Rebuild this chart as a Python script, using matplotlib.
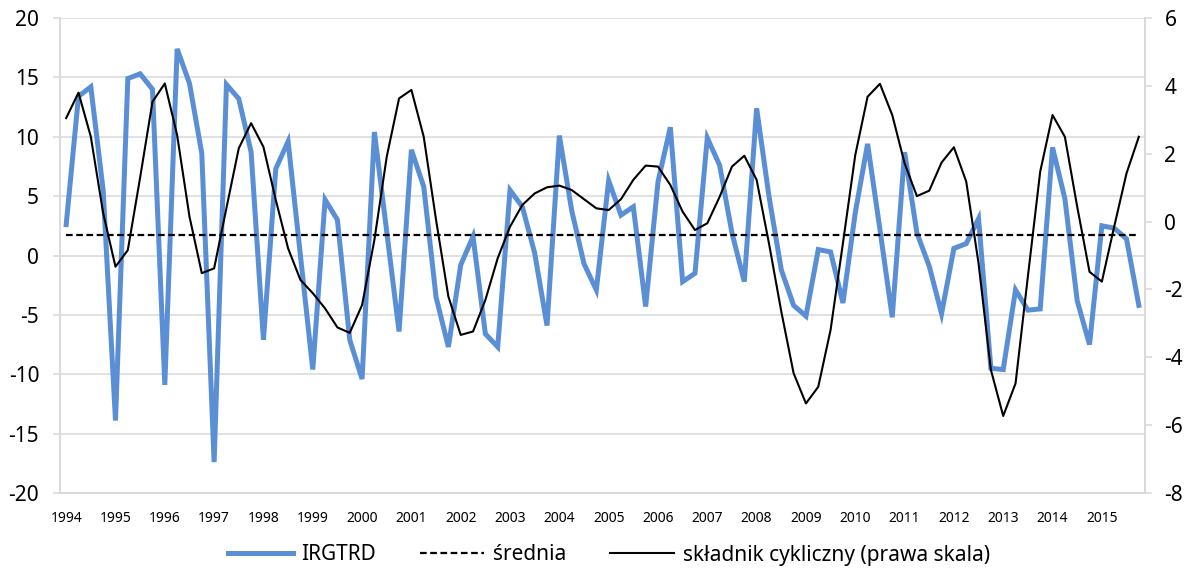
import numpy as np
import matplotlib
matplotlib.use('Agg')
import matplotlib.pyplot as plt

plt.rcParams['font.family'] = ['Noto Sans', 'DejaVu Sans']
plt.rcParams['axes.unicode_minus'] = False

# quarterly data, 1994Q1 - 2015Q4
years = list(range(1994, 2016))
irgtrd = [
    2.6, 13.4, 14.2, 5.5, -13.9, 14.9, 15.3, 14.0,
    -10.9, 17.4, 14.5, 8.6, -17.4, 14.4, 13.2, 8.7,
    -7.1, 7.3, 9.6, 0.0, -9.6, 4.7, 3.0, -7.1,
    -10.4, 10.4, 2.0, -6.4, 8.9, 5.8, -3.5, -7.7,
    -0.8, 1.6, -6.6, -7.7, 5.5, 4.1, 0.2, -5.9,
    10.1, 3.8, -0.7, -2.9, 6.3, 3.4, 4.1, -4.3,
    6.2, 10.8, -2.2, -1.5, 9.9, 7.6, 1.9, -2.2,
    12.4, 5.0, -1.2, -4.2, -5.1, 0.5, 0.3, -4.0,
    3.6, 9.4, 2.2, -5.2, 8.7, 1.9, -0.9, -4.9,
    0.6, 1.0, 3.1, -9.5, -9.6, -2.9, -4.6, -4.5,
    9.1, 4.8, -3.8, -7.5, 2.5, 2.3, 1.4, -4.2,
]
cykl = [
    3.05, 3.8, 2.5, 0.25, -1.33, -0.84, 1.3, 3.53,
    4.07, 2.55, 0.15, -1.52, -1.38, 0.4, 2.16, 2.9,
    2.2, 0.64, -0.79, -1.72, -2.11, -2.56, -3.12, -3.28,
    -2.46, -0.54, 1.91, 3.63, 3.88, 2.5, 0.05, -2.21,
    -3.34, -3.24, -2.31, -1.08, -0.15, 0.49, 0.83, 1.01,
    1.06, 0.93, 0.66, 0.39, 0.34, 0.66, 1.23, 1.65,
    1.62, 1.08, 0.29, -0.25, -0.05, 0.73, 1.62, 1.94,
    1.23, -0.64, -2.65, -4.47, -5.36, -4.87, -3.19, -0.64,
    1.96, 3.68, 4.06, 3.14, 1.72, 0.75, 0.91, 1.74,
    2.19, 1.18, -1.23, -4.37, -5.73, -4.77, -1.62, 1.47,
    3.14, 2.5, 0.44, -1.48, -1.77, -0.15, 1.42, 2.5,
]
srednia = 1.7

x = np.arange(len(irgtrd))

fig = plt.figure(figsize=(11.94, 5.76), dpi=100)
ax = fig.add_axes([60 / 1194, 1 - 493 / 576, (1145 - 60) / 1194, 475 / 576])
ax2 = ax.twinx()

grid_c = '#D9D9D9'
l1, = ax.plot(x, irgtrd, color='#5A8FD6', lw=3.6, solid_joinstyle='miter',
              label='IRGTRD', zorder=2)
l2, = ax.plot(x, [srednia] * len(x), color='black', lw=1.6, dashes=(3, 1.6),
              label='średnia', zorder=3)
l3, = ax2.plot(x, cykl, color='black', lw=1.5, label='składnik cykliczny (prawa skala)')

ax.set_xlim(-0.5, len(x) - 0.5)
ax.set_ylim(-20, 20)
ax.set_yticks(range(-20, 21, 5))
ax.yaxis.grid(True, color=grid_c, lw=1.1)
ax.set_axisbelow(True)
ax.set_xticks(x[::4])
ax.set_xticklabels([str(y) for y in years])
ax.tick_params(axis='x', length=0, pad=13, labelsize=10)
ax.tick_params(axis='y', length=5, width=1.1, color=grid_c, pad=10, labelsize=15)

ax2.set_ylim(-8, 6)
ax2.set_yticks(range(-8, 7, 2))
ax2.tick_params(axis='y', length=5, width=1.1, color=grid_c, pad=9, labelsize=15)

for a in (ax, ax2):
    a.spines['top'].set_visible(False)
    for s in ('left', 'right', 'bottom'):
        a.spines[s].set_color(grid_c)
        a.spines[s].set_linewidth(1.1)

fig.legend(handles=[l1, l2, l3], loc='center', bbox_to_anchor=(609 / 1194, 1 - 555 / 576),
           ncol=3, frameon=False, fontsize=15, handlelength=3.1, handletextpad=0.4,
           columnspacing=2.1)

fig.savefig('out.png', dpi=100)
